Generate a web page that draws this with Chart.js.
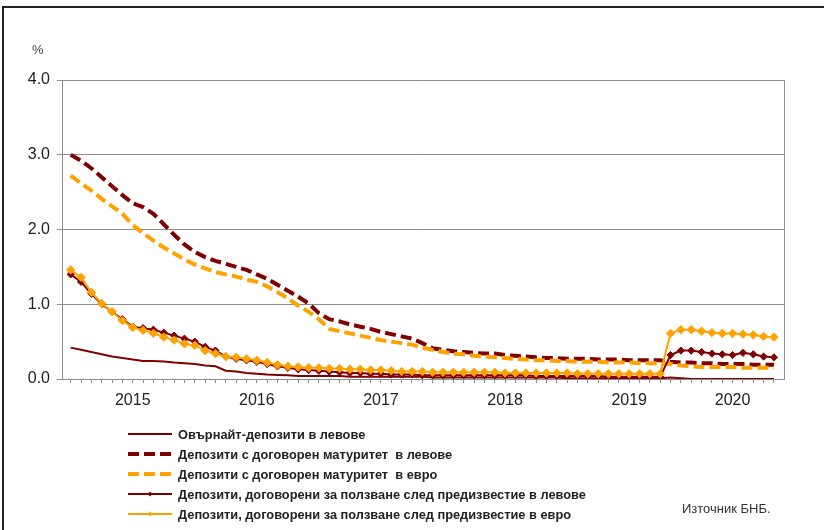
<!DOCTYPE html>
<html>
<head>
<meta charset="utf-8">
<script src="https://cdn.jsdelivr.net/npm/chart.js@4.4.1/dist/chart.umd.min.js"></script>
<style>
  body { margin: 0; background: #fff; font-family: Arial, "Liberation Sans", sans-serif; }
  #wrap { position: relative; width: 824px; height: 530px; overflow: hidden; }
  #frame { position: absolute; left: 2px; top: 6px; width: 900px; height: 600px; border-left: 2px solid #222; border-top: 2px solid #222; }
  canvas { position: absolute; left: 0; top: 0; }
  .pct { position: absolute; left: 32px; top: 42px; font-size: 13px; color: #444; }
  #legend { position: absolute; left: 128px; top: 424px; }
  .row { display: flex; align-items: center; height: 20px; }
  .row span { margin-left: 6px; font-weight: bold; font-size: 12.8px; color: #222; white-space: pre; }
  .src { position: absolute; left: 682px; top: 501px; font-size: 13px; color: #333; }
</style>
</head>
<body>
<div id="wrap">
  <div id="frame"></div>
  <canvas id="chart" width="824" height="530"></canvas>
  <div class="pct">%</div>
  <div id="legend"></div>
  <div class="src">Източник БНБ.</div>
</div>
<script>
'use strict';

// months on the x axis, Jan 2015 - Sep 2020
let months = [
  '2015-01', '2015-02', '2015-03', '2015-04', '2015-05', '2015-06', '2015-07', '2015-08', '2015-09', '2015-10', '2015-11', '2015-12',
  '2016-01', '2016-02', '2016-03', '2016-04', '2016-05', '2016-06', '2016-07', '2016-08', '2016-09', '2016-10', '2016-11', '2016-12',
  '2017-01', '2017-02', '2017-03', '2017-04', '2017-05', '2017-06', '2017-07', '2017-08', '2017-09', '2017-10', '2017-11', '2017-12',
  '2018-01', '2018-02', '2018-03', '2018-04', '2018-05', '2018-06', '2018-07', '2018-08', '2018-09', '2018-10', '2018-11', '2018-12',
  '2019-01', '2019-02', '2019-03', '2019-04', '2019-05', '2019-06', '2019-07', '2019-08', '2019-09', '2019-10', '2019-11', '2019-12',
  '2020-01', '2020-02', '2020-03', '2020-04', '2020-05', '2020-06', '2020-07', '2020-08', '2020-09'
];

let seriesNames = [
  'Овърнайт-депозити в левове',
  'Депозити с договорен матуритет  в левове',
  'Депозити с договорен матуритет  в евро',
  'Депозити, договорени за ползване след предизвестие в левове',
  'Депозити, договорени за ползване след предизвестие в евро'
];

let overnightBgn = [
  0.42, 0.39, 0.36, 0.33, 0.30, 0.28, 0.26, 0.24, 0.24, 0.235,
  0.22, 0.21, 0.20, 0.18, 0.17, 0.11, 0.10, 0.08, 0.07, 0.06,
  0.055, 0.05, 0.04, 0.04, 0.04, 0.04, 0.04, 0.03, 0.03, 0.03,
  0.03, 0.03, 0.03, 0.03, 0.03, 0.02, 0.02, 0.02, 0.02, 0.02,
  0.02, 0.02, 0.02, 0.02, 0.02, 0.02, 0.02, 0.02, 0.01, 0.01,
  0.01, 0.01, 0.01, 0.01, 0.01, 0.01, 0.01, 0.01, 0.02, 0.01,
  0.00, 0.00, 0.00, 0.00, 0.00, 0.00, 0.00, 0.00, 0.00
];

let termBgn = [
  3.00, 2.92, 2.82, 2.70, 2.58, 2.46, 2.35, 2.30, 2.21, 2.07,
  1.93, 1.80, 1.70, 1.63, 1.58, 1.54, 1.50, 1.46, 1.40, 1.34,
  1.26, 1.18, 1.10, 1.01, 0.88, 0.80, 0.77, 0.73, 0.70, 0.67,
  0.63, 0.60, 0.57, 0.54, 0.48, 0.41, 0.39, 0.37, 0.36, 0.35,
  0.34, 0.34, 0.32, 0.31, 0.30, 0.29, 0.28, 0.28, 0.27, 0.27,
  0.27, 0.26, 0.26, 0.26, 0.25, 0.25, 0.25, 0.25, 0.23, 0.22,
  0.22, 0.21, 0.21, 0.20, 0.20, 0.20, 0.19, 0.19, 0.19
];

let termEur = [
  2.72, 2.62, 2.52, 2.41, 2.31, 2.21, 2.06, 1.95, 1.85, 1.76,
  1.68, 1.60, 1.53, 1.48, 1.43, 1.40, 1.37, 1.33, 1.30, 1.24,
  1.16, 1.08, 0.98, 0.90, 0.80, 0.67, 0.64, 0.61, 0.58, 0.55,
  0.52, 0.50, 0.48, 0.46, 0.42, 0.39, 0.36, 0.34, 0.33, 0.31,
  0.30, 0.29, 0.28, 0.27, 0.26, 0.25, 0.25, 0.24, 0.24, 0.23,
  0.23, 0.23, 0.22, 0.22, 0.22, 0.21, 0.21, 0.21, 0.20, 0.18,
  0.17, 0.16, 0.16, 0.16, 0.16, 0.15, 0.15, 0.15, 0.15
];

let noticeBgn = [
  1.40, 1.30, 1.14, 1.00, 0.90, 0.80, 0.70, 0.68, 0.66, 0.62,
  0.58, 0.54, 0.50, 0.43, 0.38, 0.30, 0.27, 0.25, 0.23, 0.20,
  0.17, 0.15, 0.13, 0.12, 0.11, 0.10, 0.09, 0.08, 0.08, 0.07,
  0.07, 0.06, 0.06, 0.06, 0.05, 0.05, 0.05, 0.05, 0.05, 0.05,
  0.05, 0.05, 0.05, 0.05, 0.05, 0.04, 0.04, 0.04, 0.04, 0.04,
  0.04, 0.04, 0.03, 0.03, 0.03, 0.03, 0.03, 0.03, 0.32, 0.38,
  0.38, 0.36, 0.34, 0.33, 0.32, 0.35, 0.33, 0.30, 0.29
];

let noticeEur = [
  1.46, 1.36, 1.16, 1.01, 0.90, 0.78, 0.69, 0.65, 0.61, 0.56,
  0.52, 0.47, 0.45, 0.38, 0.34, 0.30, 0.29, 0.27, 0.25, 0.22,
  0.19, 0.17, 0.16, 0.15, 0.15, 0.14, 0.14, 0.13, 0.13, 0.12,
  0.12, 0.11, 0.10, 0.10, 0.10, 0.09, 0.09, 0.09, 0.09, 0.09,
  0.09, 0.09, 0.08, 0.08, 0.08, 0.08, 0.08, 0.08, 0.08, 0.07,
  0.07, 0.07, 0.07, 0.07, 0.07, 0.07, 0.07, 0.07, 0.61, 0.66,
  0.66, 0.64, 0.62, 0.61, 0.61, 0.60, 0.59, 0.57, 0.56
];

let yTicks = [0, 1, 2, 3, 4];

const maroon = '#800000';
const orange = '#FFA200';

// year label goes under the middle month of each year
let yearAt = {};
let byYear = {};
months.forEach((m, i) => {
  let y = m.slice(0, 4);
  (byYear[y] = byYear[y] || []).push(i);
});
Object.keys(byYear).forEach(y => {
  let idx = byYear[y];
  yearAt[idx[0] + Math.floor(idx.length / 2)] = y;
});

function toPoints(vals) {
  return vals.map((v, i) => ({ x: i, y: v }));
}

let styles = [
  { color: maroon, width: 2, dash: [], marker: 0, order: 5 },
  { color: maroon, width: 4, dash: [11, 5], marker: 0, order: 4 },
  { color: orange, width: 4, dash: [11, 5], marker: 0, order: 3 },
  { color: maroon, width: 2, dash: [], marker: 3.6, order: 2 },
  { color: orange, width: 2, dash: [], marker: 4.2, order: 1 }
];
let allSeries = [overnightBgn, termBgn, termEur, noticeBgn, noticeEur];

let datasets = allSeries.map((vals, k) => ({
  label: seriesNames[k],
  data: toPoints(vals),
  borderColor: styles[k].color,
  backgroundColor: styles[k].color,
  borderWidth: styles[k].width,
  borderDash: styles[k].dash,
  pointRadius: styles[k].marker,
  pointStyle: 'rectRot',
  pointBorderWidth: 1,
  tension: 0,
  order: styles[k].order
}));

Chart.defaults.font.family = 'Arial, "Liberation Sans", sans-serif';

const ctx = document.getElementById('chart').getContext('2d');
const myChart = new Chart(ctx, {
  type: 'line',
  data: { datasets: datasets },
  options: {
    responsive: false,
    animation: false,
    devicePixelRatio: 1,
    layout: { padding: { left: 0, right: 40, top: 80, bottom: 121 } },
    plugins: { legend: { display: false }, tooltip: { enabled: false } },
    scales: {
      x: {
        type: 'linear',
        min: -0.84,
        max: 68.97,
        grid: { drawOnChartArea: false, tickLength: 4, color: '#8c8c8c' },
        border: { color: '#8c8c8c' },
        ticks: {
          autoSkip: false, maxRotation: 0, minRotation: 0, padding: 8,
          color: '#222', font: { size: 16 },
          callback: v => yearAt[v] || ''
        },
        afterBuildTicks: s => { s.ticks = months.map((m, i) => ({ value: i })); },
        afterFit: s => { s.height = 30; }
      },
      y: {
        min: 0,
        max: 4,
        grid: { color: '#8c8c8c', tickLength: 5 },
        border: { color: '#8c8c8c' },
        ticks: { padding: 7, color: '#222', font: { size: 16 }, callback: v => v.toFixed(1) },
        afterBuildTicks: s => { s.ticks = yTicks.map(v => ({ value: v })); },
        afterFit: s => { s.width = 62; }
      },
      y2: {
        position: 'right',
        grid: { drawOnChartArea: false, drawTicks: false },
        border: { color: '#8c8c8c' },
        ticks: { display: false },
        afterFit: s => { s.width = 0; }
      }
    }
  }
});

// legend
let legend = document.getElementById('legend');
seriesNames.forEach((name, k) => {
  let st = styles[k];
  let row = document.createElement('div');
  row.className = 'row';
  let svg = '<svg width="44" height="12"><line x1="0" y1="6" x2="44" y2="6" stroke="' + st.color +
    '" stroke-width="' + st.width + '"' + (st.dash.length ? ' stroke-dasharray="11 5"' : '') + '/>';
  if (st.marker) {
    svg += '<polygon points="19.5,6 22,3.5 24.5,6 22,8.5" fill="' + st.color + '"/>';
  }
  svg += '</svg>';
  row.innerHTML = svg + '<span>' + name + '</span>';
  legend.appendChild(row);
});
</script>
</body>
</html>
